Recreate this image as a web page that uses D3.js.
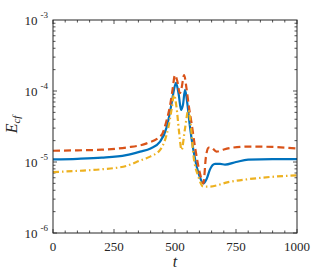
<!DOCTYPE html>
<html>
<head>
<meta charset="utf-8">
<script src="https://cdn.jsdelivr.net/npm/d3@7"></script>
<style>
  body { margin: 0; background: #fff; }
  svg text { font-family: "Times New Roman", "Liberation Serif", Times, serif; fill: #262626; }
</style>
</head>
<body>
<svg width="329" height="274"></svg>
<script>
// values
let blueT = [0, 100, 200, 300, 357, 400, 439, 466, 486, 493, 504, 515, 525, 533, 541, 551, 561, 575, 589, 603, 616, 630, 643, 664, 685, 705, 750, 800, 900, 1000];
let blueE = [1.09e-5, 1.11e-5, 1.15e-5, 1.25e-5, 1.4e-5, 1.55e-5, 1.93e-5, 3.1e-5, 6.7e-5, 9.3e-5, 1.3e-4, 9e-5, 5.4e-5, 6.5e-5, 1.04e-4, 6.5e-5, 3.2e-5, 1.5e-5, 8.6e-6, 6e-6, 5e-6, 5.8e-6, 7.8e-6, 9.4e-6, 9.4e-6, 9.2e-6, 1.0e-5, 1.08e-5, 1.1e-5, 1.1e-5];

let redT = [0, 100, 200, 300, 384, 445, 466, 480, 490, 500, 510, 520, 528, 537, 547, 557, 568, 582, 602, 616, 627, 638, 648, 670, 700, 740, 800, 900, 1000];
let redE = [1.44e-5, 1.46e-5, 1.49e-5, 1.6e-5, 1.83e-5, 2.4e-5, 3.9e-5, 6.3e-5, 1.05e-4, 1.68e-4, 1.35e-4, 9.3e-5, 1.15e-4, 1.68e-4, 1.1e-4, 6e-5, 3.5e-5, 1.63e-5, 7e-6, 5e-6, 1.2e-5, 1.6e-5, 1.6e-5, 1.4e-5, 1.5e-5, 1.6e-5, 1.65e-5, 1.63e-5, 1.55e-5];

let yellowT = [0, 100, 200, 300, 357, 400, 439, 473, 486, 496, 506, 516, 527, 540, 555, 565, 575, 596, 616, 640, 718, 855, 1000];
let yellowE = [7.2e-6, 7.5e-6, 7.9e-6, 8.8e-6, 1.05e-5, 1.2e-5, 1.48e-5, 3.1e-5, 5.5e-5, 8.8e-5, 6e-5, 2.8e-5, 1.48e-5, 2.8e-5, 5.4e-5, 3.2e-5, 1.3e-5, 6.2e-6, 4.5e-6, 4.5e-6, 5.2e-6, 6e-6, 6.5e-6];

let xTicks = [0, 250, 500, 750, 1000];
let yTicks = [-6, -5, -4, -3];

let margin = {left: 53, right: 32, top: 20, bottom: 41},
    width = 329, height = 274;

let svg = d3.select('svg');

let x = d3.scaleLinear().domain([0, 1000]).range([margin.left, width - margin.right]);
let y = d3.scaleLog().domain([1e-6, 1e-3]).range([height - margin.bottom, margin.top]);

let x0 = x.range()[0], x1 = x.range()[1], y0 = y.range()[0], y1 = y.range()[1];

// minor ticks
let xMinor = d3.range(0, 1001, 50);
let yMinor = [];
for (let p = -6; p < -3; p++) {
    for (let m = 1; m < 10; m++) yMinor.push(m * Math.pow(10, p));
}

let axisColor = '#262626';
let ticks = svg.append('g').attr('stroke', axisColor).attr('stroke-width', 0.8);

xMinor.forEach(v => {
    let len = (v % 250 === 0) ? 4 : 2.5;
    ticks.append('line').attr('x1', x(v)).attr('x2', x(v)).attr('y1', y0).attr('y2', y0 - len);
    ticks.append('line').attr('x1', x(v)).attr('x2', x(v)).attr('y1', y1).attr('y2', y1 + len);
});
yMinor.forEach(v => {
    let major = Math.abs(Math.log10(v) - Math.round(Math.log10(v))) < 1e-9;
    let len = major ? 4 : 2.5;
    ticks.append('line').attr('x1', x0).attr('x2', x0 + len).attr('y1', y(v)).attr('y2', y(v));
    ticks.append('line').attr('x1', x1).attr('x2', x1 - len).attr('y1', y(v)).attr('y2', y(v));
});

let line = d3.line()
    .x(d => x(d[0]))
    .y(d => y(d[1]))
    .curve(d3.curveMonotoneX);

let g = svg.append('g');

g.append('path')
    .datum(blueT.map((t, i) => [t, blueE[i]]))
    .attr('d', line)
    .attr('fill', 'none')
    .attr('stroke', '#0072BD')
    .attr('stroke-width', 2.2);

g.append('path')
    .datum(redT.map((t, i) => [t, redE[i]]))
    .attr('d', line)
    .attr('fill', 'none')
    .attr('stroke', '#D95319')
    .attr('stroke-width', 2.2)
    .attr('stroke-dasharray', '7,4');

g.append('path')
    .datum(yellowT.map((t, i) => [t, yellowE[i]]))
    .attr('d', line)
    .attr('fill', 'none')
    .attr('stroke', '#EDB120')
    .attr('stroke-width', 2.2)
    .attr('stroke-dasharray', '6,3,1.5,3');

// box
svg.append('rect')
    .attr('x', x0).attr('y', y1)
    .attr('width', x1 - x0).attr('height', y0 - y1)
    .attr('fill', 'none')
    .attr('stroke', axisColor)
    .attr('stroke-width', 1);

// x tick labels
svg.append('g').selectAll('text')
    .data(xTicks).enter()
    .append('text')
    .attr('x', d => x(d))
    .attr('y', y0 + 18)
    .attr('text-anchor', 'middle')
    .attr('font-size', 13)
    .text(d => d);

// y tick labels
let yl = svg.append('g').selectAll('text')
    .data(yTicks).enter()
    .append('text')
    .attr('x', x0 - 5)
    .attr('y', d => y(Math.pow(10, d)) + 5)
    .attr('text-anchor', 'end')
    .attr('font-size', 13);
yl.append('tspan').text('10');
yl.append('tspan')
    .attr('dx', 3)
    .attr('dy', -7)
    .attr('font-size', 9)
    .text(d => '-' + Math.abs(d));

// axis labels
svg.append('text')
    .attr('x', (x0 + x1) / 2)
    .attr('y', height - 7)
    .attr('text-anchor', 'middle')
    .attr('font-size', 16)
    .attr('font-style', 'italic')
    .text('t');

let ylab = svg.append('text')
    .attr('transform', 'translate(17,' + ((y0 + y1) / 2 - 2) + ')rotate(-90)')
    .attr('text-anchor', 'middle')
    .attr('font-size', 16)
    .attr('font-style', 'italic');
ylab.append('tspan').text('E');
ylab.append('tspan').attr('dy', 3).attr('font-size', 11).text('cf');
</script>
</body>
</html>
